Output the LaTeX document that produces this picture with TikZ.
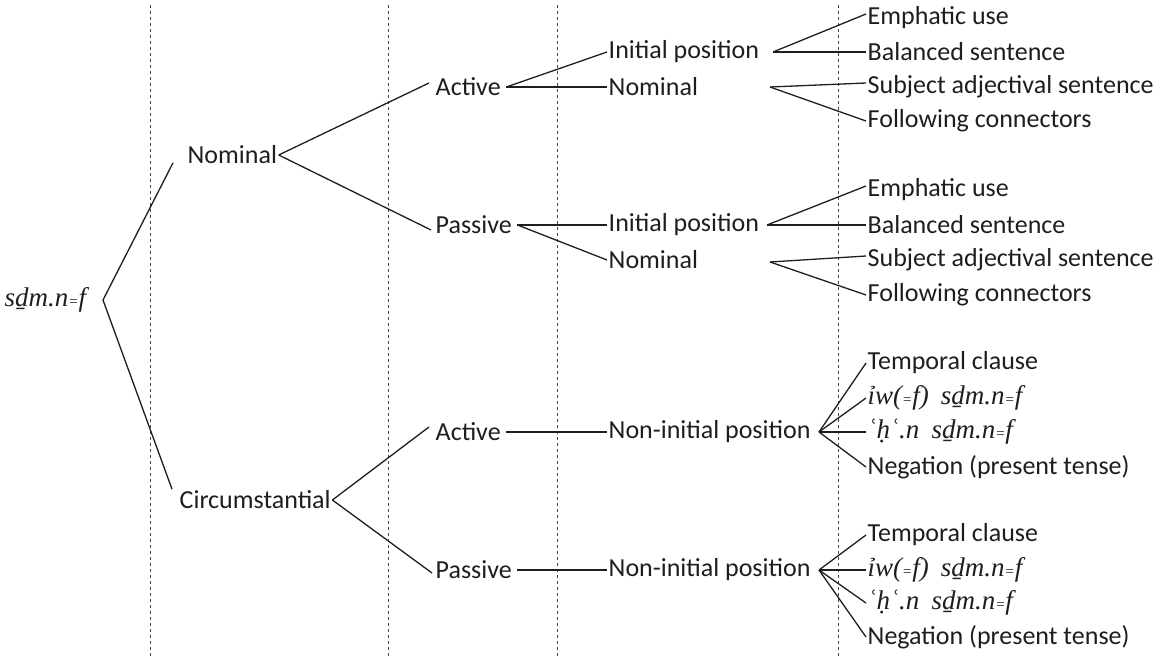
\documentclass[tikz,border=0pt]{standalone}
\usepackage{fontspec}
\setmainfont{Carlito}
\newfontfamily\egyfont{Liberation Serif}
\usepackage{xcolor}
\usepackage{tikz}
\usetikzlibrary{positioning}
\definecolor{tree_ink}{RGB}{30, 30, 30}
\definecolor{tree_div}{RGB}{70, 70, 70}
\newcommand{\eqs}{{\fontsize{15}{15}\selectfont=}}

\begin{document}
\begin{tikzpicture}[x=1pt, y=-1pt,
        lbl/.style={anchor=west, inner sep=1.5pt, text=tree_ink,
                    font=\fontsize{26}{30}\selectfont},
        egy/.style={lbl, font=\fontsize{27}{30}\selectfont\egyfont\itshape},
        brn/.style={tree_ink, line width=1.3pt},
        divl/.style={tree_div, line width=1pt, dash pattern=on 3pt off 3pt},
      ]
        \useasboundingbox (0,0) rectangle (1163,661);

        \foreach \x in {150, 388, 557, 838}
          \draw[divl] (\x,5) -- (\x,656);

        \node[egy] (root) at (3,300) {sḏm.n\eqs f};
        \node[lbl] (nom)  at (186,155) {Nominal};
        \node[lbl] (circ) at (178,500) {Circumstantial};

        \node[lbl] (nact) at (434,87)  {Active};
        \node[lbl] (npas) at (434,225) {Passive};
        \node[lbl] (cact) at (434,432) {Active};
        \node[lbl] (cpas) at (434,570) {Passive};

        \node[lbl] (nip1)  at (607,52)  {Initial position};
        \node[lbl] (nnom1) at (607,87)  {Nominal};
        \node[lbl] (nip2)  at (607,225) {Initial position};
        \node[lbl] (nnom2) at (607,260) {Nominal};
        \node[lbl] (cnip1) at (607,432) {Non-initial position};
        \node[lbl] (cnip2) at (607,570) {Non-initial position};

        \coordinate (rt)  at (103,300);
        \coordinate (fa1) at (773,52);
        \coordinate (fa2) at (770,87);
        \coordinate (fb1) at (767,225);
        \coordinate (fb2) at (770,262);
        \coordinate (fc)  at (819,432);
        \coordinate (fd)  at (819,570);

        % leaves
        \foreach \n/\y/\t in {ea/18/Emphatic use, ba/52/Balanced sentence,
                              sa/87/Subject adjectival sentence, ca/121/Following connectors,
                              eb/190/Emphatic use, bb/225/Balanced sentence,
                              sb/260/Subject adjectival sentence, cb/295/Following connectors}
          \node[lbl] (\n) at (866,\y) {\t};

        \foreach \n/\s/\y/\t in {tc/lbl/363/{Temporal clause},
                                 ic/egy/398/{ỉw(\eqs f)\hspace{0.45em}sḏm.n\eqs f},
                                 hc/egy/432/{ʿḥʿ.n\hspace{0.45em}sḏm.n\eqs f},
                                 gc/lbl/467/{Negation (present tense)},
                                 td/lbl/535/{Temporal clause},
                                 id/egy/570/{ỉw(\eqs f)\hspace{0.45em}sḏm.n\eqs f},
                                 hd/egy/603/{ʿḥʿ.n\hspace{0.45em}sḏm.n\eqs f},
                                 gd/lbl/637/{Negation (present tense)}}
          \node[\s] (\n) at (866,\y) {\t};

        \draw[brn] (rt) -- ([xshift=-13pt,yshift=3pt]nom.south west);
        \draw[brn] (rt) -- ([xshift=-6pt]circ.north west);

        \draw[brn] (nom.east) -- ([xshift=-5pt,yshift=4pt]nact.west);
        \draw[brn] (nom.east) -- ([xshift=-3pt,yshift=-5pt]npas.west);
        \draw[brn] (circ.east) -- ([xshift=-5pt,yshift=5pt]cact.west);
        \draw[brn] (circ.east) -- ([xshift=-2pt,yshift=-3pt]cpas.west);

        \draw[brn] ([xshift=4pt]nact.east) -- (nip1.west);
        \draw[brn] ([xshift=4pt]nact.east) -- (nnom1.west);
        \draw[brn] ([xshift=4pt]npas.east) -- (nip2.west);
        \draw[brn] ([xshift=4pt]npas.east) -- (nnom2.west);
        \draw[brn] ([xshift=4pt]cact.east) -- (cnip1.west);
        \draw[brn] ([xshift=4pt]cpas.east) -- (cnip2.west);

        \foreach \f/\a/\b in {fa1/ea/ba, fa2/sa/ca, fb1/eb/bb, fb2/sb/cb} {
          \draw[brn] (\f) -- ([yshift=4pt]\a.west);
          \draw[brn] (\f) -- (\b.west);
        }
        \foreach \f/\a in {fc/tc, fc/ic, fc/hc, fc/gc, fd/td, fd/id, fd/hd, fd/gd}
          \draw[brn] (\f) -- (\a.west);
      \end{tikzpicture}
\end{document}
